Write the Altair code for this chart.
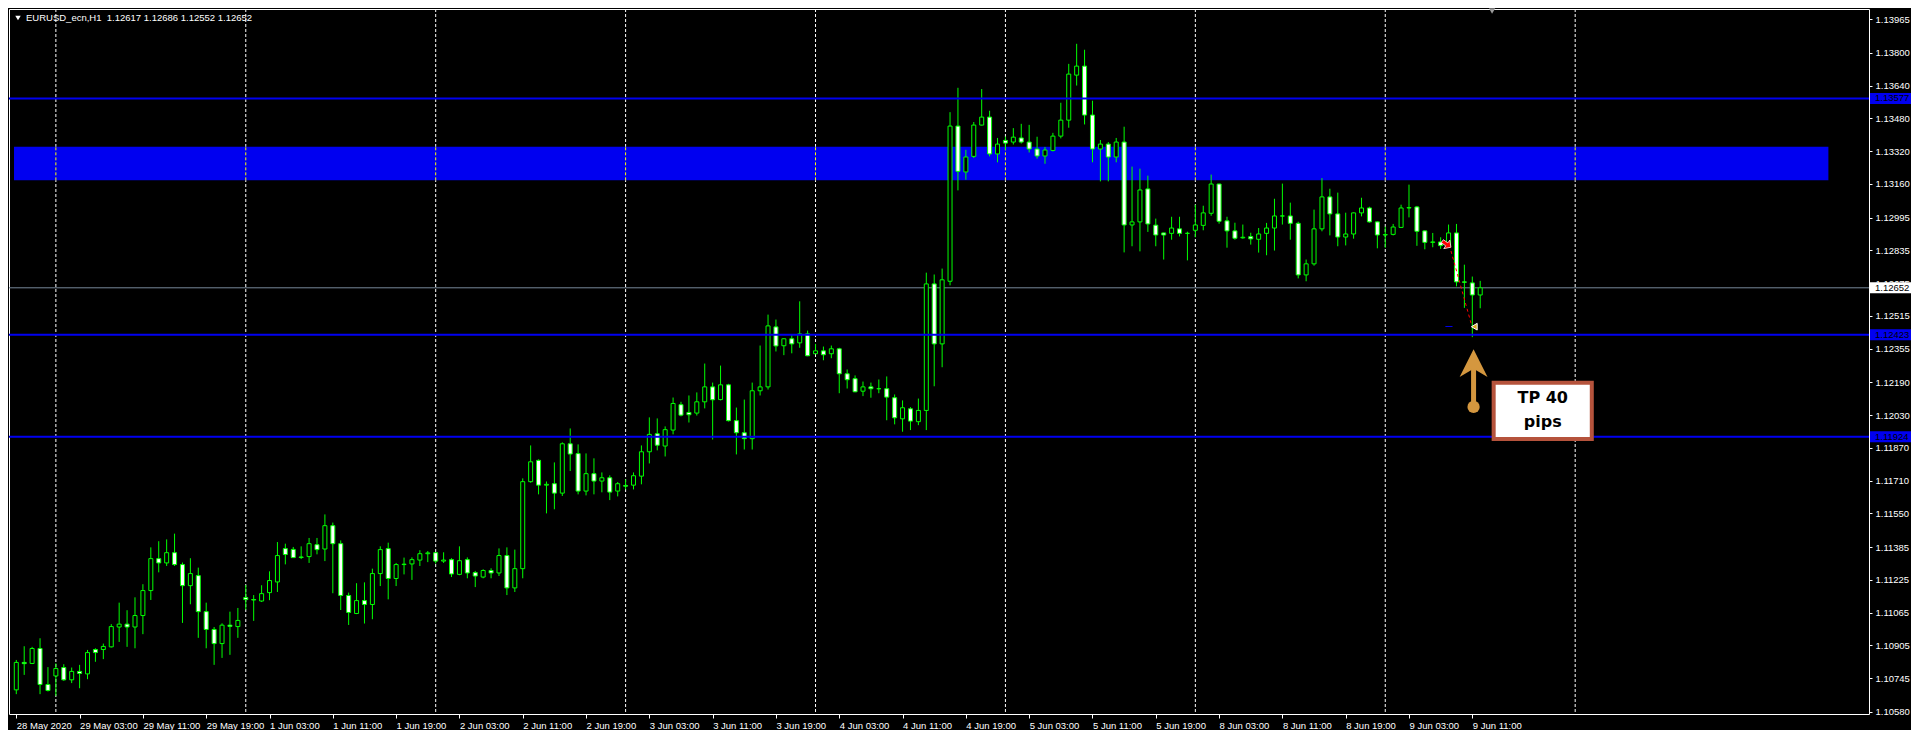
import json
import altair as alt
import pandas as pd

# ---------------- data ----------------
OPEN = [1.10688, 1.10822, 1.10817, 1.10890, 1.10714, 1.10756, 1.10797, 1.10737, 1.10778, 1.10766,
        1.10885, 1.10885, 1.10898, 1.10995, 1.11009, 1.10995, 1.11051, 1.11173, 1.11329, 1.11308,
        1.11358, 1.11300, 1.11197, 1.11246, 1.11070, 1.10983, 1.10914, 1.11004, 1.10997, 1.11139,
        1.11129, 1.11122, 1.11163, 1.11215, 1.11378, 1.11374, 1.11337, 1.11339, 1.11397, 1.11376,
        1.11490, 1.11402, 1.11149, 1.11061, 1.11124, 1.11105, 1.11256, 1.11378, 1.11232, 1.11300,
        1.11303, 1.11322, 1.11353, 1.11358, 1.11317, 1.11324, 1.11252, 1.11324, 1.11261, 1.11239,
        1.11271, 1.11259, 1.11344, 1.11186, 1.11280, 1.11705, 1.11809, 1.11688, 1.11695, 1.11649,
        1.11890, 1.11842, 1.11659, 1.11744, 1.11708, 1.11724, 1.11659, 1.11686, 1.11688, 1.11732,
        1.11851, 1.11939, 1.11879, 1.11957, 1.12081, 1.12043, 1.12040, 1.12095, 1.12168, 1.12106,
        1.12178, 1.12003, 1.11944, 1.11915, 1.12149, 1.12168, 1.12461, 1.12369, 1.12403, 1.12383,
        1.12427, 1.12330, 1.12344, 1.12330, 1.12354, 1.12232, 1.12208, 1.12147, 1.12168, 1.12159,
        1.12159, 1.12115, 1.12012, 1.12061, 1.11998, 1.12053, 1.12671, 1.12378, 1.12684, 1.13442,
        1.13218, 1.13294, 1.13447, 1.13486, 1.13306, 1.13372, 1.13364, 1.13384, 1.13364, 1.13330,
        1.13296, 1.13323, 1.13393, 1.13471, 1.13691, 1.13735, 1.13496, 1.13330, 1.13354, 1.13291,
        1.13364, 1.12959, 1.12974, 1.13135, 1.12958, 1.12920, 1.12918, 1.12940, 1.12918, 1.12933,
        1.12957, 1.13016, 1.13159, 1.12979, 1.12930, 1.12896, 1.12902, 1.12889, 1.12918, 1.12944,
        1.13003, 1.13003, 1.12967, 1.12715, 1.12769, 1.12940, 1.13096, 1.13013, 1.12900, 1.12915,
        1.13018, 1.13042, 1.12974, 1.12910, 1.12913, 1.12947, 1.13042, 1.13047, 1.12930, 1.12874,
        1.12876, 1.12858, 1.12920, 1.12681, 1.12676, 1.12617]
HIGH = [1.10834, 1.10901, 1.10898, 1.10940, 1.10799, 1.10817, 1.10813, 1.10797, 1.10810, 1.10883,
        1.10891, 1.10914, 1.11009, 1.11114, 1.11077, 1.11140, 1.11204, 1.11384, 1.11414, 1.11423,
        1.11451, 1.11310, 1.11331, 1.11285, 1.11114, 1.10995, 1.11013, 1.11070, 1.11088, 1.11200,
        1.11151, 1.11199, 1.11267, 1.11410, 1.11402, 1.11386, 1.11389, 1.11430, 1.11430, 1.11545,
        1.11505, 1.11418, 1.11163, 1.11209, 1.11213, 1.11280, 1.11389, 1.11407, 1.11308, 1.11334,
        1.11335, 1.11370, 1.11366, 1.11360, 1.11360, 1.11331, 1.11389, 1.11335, 1.11269, 1.11277,
        1.11282, 1.11379, 1.11384, 1.11373, 1.11721, 1.11882, 1.11814, 1.11706, 1.11799, 1.11897,
        1.11965, 1.11887, 1.11843, 1.11819, 1.11750, 1.11736, 1.11703, 1.11716, 1.11750, 1.11882,
        1.12019, 1.12014, 1.11975, 1.12116, 1.12095, 1.12126, 1.12141, 1.12282, 1.12189, 1.12272,
        1.12183, 1.12067, 1.12106, 1.12189, 1.12370, 1.12521, 1.12497, 1.12405, 1.12424, 1.12586,
        1.12443, 1.12378, 1.12365, 1.12370, 1.12359, 1.12253, 1.12224, 1.12194, 1.12189, 1.12204,
        1.12219, 1.12131, 1.12102, 1.12069, 1.12111, 1.12726, 1.12717, 1.12746, 1.13510, 1.13629,
        1.13326, 1.13462, 1.13623, 1.13517, 1.13384, 1.13391, 1.13432, 1.13453, 1.13448, 1.13390,
        1.13340, 1.13409, 1.13556, 1.13746, 1.13844, 1.13815, 1.13566, 1.13374, 1.13364, 1.13384,
        1.13439, 1.13244, 1.13234, 1.13200, 1.12990, 1.12921, 1.12999, 1.12999, 1.12926, 1.13058,
        1.13053, 1.13205, 1.13161, 1.12999, 1.12970, 1.12961, 1.12921, 1.12944, 1.12969, 1.13087,
        1.13161, 1.13068, 1.12975, 1.12790, 1.13034, 1.13188, 1.13136, 1.13117, 1.13019, 1.13020,
        1.13092, 1.13048, 1.12976, 1.12951, 1.12964, 1.13058, 1.13156, 1.13052, 1.12932, 1.12920,
        1.12899, 1.12961, 1.12964, 1.12765, 1.12707, 1.12686]
LOW = [1.10667, 1.10761, 1.10814, 1.10667, 1.10680, 1.10659, 1.10732, 1.10721, 1.10696, 1.10740,
       1.10825, 1.10838, 1.10895, 1.10922, 1.10898, 1.10891, 1.10960, 1.11127, 1.11262, 1.11293,
       1.11293, 1.11015, 1.11106, 1.10942, 1.10891, 1.10810, 1.10844, 1.10859, 1.10942, 1.11080,
       1.11025, 1.11117, 1.11126, 1.11166, 1.11301, 1.11334, 1.11327, 1.11308, 1.11350, 1.11317,
       1.11160, 1.11078, 1.11005, 1.11058, 1.11012, 1.11033, 1.11195, 1.11130, 1.11195, 1.11252,
       1.11225, 1.11293, 1.11312, 1.11305, 1.11308, 1.11239, 1.11248, 1.11233, 1.11190, 1.11233,
       1.11233, 1.11244, 1.11151, 1.11166, 1.11233, 1.11700, 1.11643, 1.11550, 1.11570, 1.11635,
       1.11757, 1.11643, 1.11638, 1.11643, 1.11653, 1.11615, 1.11633, 1.11667, 1.11667, 1.11692,
       1.11794, 1.11858, 1.11828, 1.11936, 1.12024, 1.11994, 1.12028, 1.12063, 1.11911, 1.12102,
       1.11999, 1.11838, 1.11862, 1.11862, 1.12126, 1.12155, 1.12341, 1.12323, 1.12332, 1.12359,
       1.12318, 1.12328, 1.12298, 1.12308, 1.12137, 1.12160, 1.12142, 1.12123, 1.12115, 1.12137,
       1.12005, 1.11985, 1.11949, 1.11957, 1.11981, 1.11957, 1.12171, 1.12264, 1.12664, 1.13128,
       1.13180, 1.13286, 1.13445, 1.13294, 1.13265, 1.13326, 1.13352, 1.13357, 1.13313, 1.13283,
       1.13258, 1.13318, 1.13382, 1.13434, 1.13640, 1.13450, 1.13265, 1.13172, 1.13172, 1.13265,
       1.12825, 1.12855, 1.12830, 1.12925, 1.12855, 1.12790, 1.12887, 1.12903, 1.12786, 1.12899,
       1.12933, 1.13004, 1.12965, 1.12848, 1.12887, 1.12892, 1.12863, 1.12824, 1.12811, 1.12834,
       1.12961, 1.12887, 1.12698, 1.12684, 1.12760, 1.12928, 1.12908, 1.12855, 1.12859, 1.12892,
       1.13001, 1.12970, 1.12845, 1.12848, 1.12908, 1.12944, 1.12996, 1.12857, 1.12840, 1.12850,
       1.12842, 1.12850, 1.12659, 1.12554, 1.12411, 1.12552]
CLOSE = [1.10822, 1.10816, 1.10890, 1.10714, 1.10685, 1.10792, 1.10737, 1.10778, 1.10768, 1.10870,
         1.10870, 1.10900, 1.10997, 1.11009, 1.10995, 1.11051, 1.11173, 1.11329, 1.11308, 1.11358,
         1.11300, 1.11197, 1.11256, 1.11070, 1.10983, 1.10914, 1.11004, 1.10998, 1.11027, 1.11129,
         1.11127, 1.11158, 1.11222, 1.11344, 1.11349, 1.11334, 1.11335, 1.11402, 1.11373, 1.11490,
         1.11402, 1.11149, 1.11066, 1.11124, 1.11105, 1.11256, 1.11373, 1.11232, 1.11300, 1.11302,
         1.11324, 1.11353, 1.11357, 1.11317, 1.11322, 1.11254, 1.11319, 1.11259, 1.11244, 1.11271,
         1.11259, 1.11344, 1.11186, 1.11280, 1.11705, 1.11802, 1.11688, 1.11692, 1.11649, 1.11890,
         1.11840, 1.11659, 1.11744, 1.11708, 1.11724, 1.11654, 1.11695, 1.11683, 1.11734, 1.11851,
         1.11936, 1.11883, 1.11959, 1.12087, 1.12030, 1.12032, 1.12095, 1.12168, 1.12105, 1.12178,
         1.12003, 1.11944, 1.11915, 1.12149, 1.12168, 1.12466, 1.12368, 1.12403, 1.12378, 1.12427,
         1.12320, 1.12344, 1.12325, 1.12354, 1.12232, 1.12203, 1.12144, 1.12168, 1.12159, 1.12159,
         1.12118, 1.12017, 1.12066, 1.12001, 1.12053, 1.12671, 1.12378, 1.12691, 1.13442, 1.13221,
         1.13291, 1.13447, 1.13486, 1.13306, 1.13354, 1.13359, 1.13388, 1.13364, 1.13330, 1.13296,
         1.13325, 1.13393, 1.13471, 1.13696, 1.13735, 1.13496, 1.13330, 1.13354, 1.13291, 1.13364,
         1.12959, 1.12974, 1.13130, 1.12964, 1.12910, 1.12910, 1.12944, 1.12918, 1.12918, 1.12959,
         1.13018, 1.13159, 1.12977, 1.12930, 1.12894, 1.12899, 1.12891, 1.12915, 1.12944, 1.13003,
         1.13003, 1.12967, 1.12715, 1.12769, 1.12940, 1.13096, 1.13013, 1.12900, 1.12915, 1.13018,
         1.13042, 1.12974, 1.12910, 1.12912, 1.12949, 1.13042, 1.13044, 1.12928, 1.12874, 1.12876,
         1.12858, 1.12920, 1.12681, 1.12679, 1.12617, 1.12652]

X_LABELS = ["28 May 2020", "29 May 03:00", "29 May 11:00", "29 May 19:00", "1 Jun 03:00",
            "1 Jun 11:00", "1 Jun 19:00", "2 Jun 03:00", "2 Jun 11:00", "2 Jun 19:00",
            "3 Jun 03:00", "3 Jun 11:00", "3 Jun 19:00", "4 Jun 03:00", "4 Jun 11:00",
            "4 Jun 19:00", "5 Jun 03:00", "5 Jun 11:00", "5 Jun 19:00", "8 Jun 03:00",
            "8 Jun 11:00", "8 Jun 19:00", "9 Jun 03:00", "9 Jun 11:00"]
X_LABEL_BARS = list(range(0, 185, 8))
Y_TICKS = [1.13965, 1.13800, 1.13640, 1.13480, 1.13320, 1.13160, 1.12995, 1.12835, 1.12675,
           1.12515, 1.12355, 1.12190, 1.12030, 1.11870, 1.11710, 1.11550, 1.11385, 1.11225,
           1.11065, 1.10905, 1.10745, 1.10580]
DAY_BARS = [5, 29, 53, 77, 101, 125, 149, 173, 197]
LEVELS = [1.13577, 1.12423, 1.11924]
ZONE_LO, ZONE_HI, ZONE_END = 1.13177, 1.13341, 229
BID = 1.12652
SYMBOL = "EURUSD_ecn,H1"

# trade annotation
ENTRY_BAR, ENTRY_PRICE = 180.75, 1.12865
LINE_START, LINE_END = 181.1, 183.96
EXIT_BAR, EXIT_PRICE = 184.25, 1.12462
TP_PRICE, TP_X0, TP_X1 = 1.12463, 180.6, 181.5
ARROW_BAR, ARROW_HEAD, ARROW_TOP, ARROW_BASE = 184.16, 1.12284, 1.12264, 1.12070
BOX_X0, BOX_X1, BOX_LO, BOX_HI = 186.7, 199.1, 1.11913, 1.12188
NOTE_BAR, NOTE_LINES, NOTE_PRICES = 192.9, ["TP 40", "pips"], [1.12112, 1.11997]
SHIFT_BAR = 186.5

# ---------------- layout / style ----------------
W, H = 1860, 705
LIME = "#00FF00"
BLUE = "#0000F0"
FONT = "Liberation Sans"
FS = 9.5

XS = alt.Scale(domain=[-0.29, 233.5], nice=False, zero=False)
YS = alt.Scale(domain=[1.10570, 1.14014], nice=False, zero=False)

lab_expr = f"{json.dumps(X_LABELS)}[indexof({json.dumps(X_LABEL_BARS)}, datum.value)]"
XAX = alt.Axis(values=X_LABEL_BARS, labelExpr=lab_expr, title=None, grid=False, domain=False,
               tickSize=4, tickColor="white", labelColor="white", labelAlign="left",
               labelPadding=2, labelFont=FONT, labelFontSize=FS, labelOverlap=False,
               labelFlush=False, labelBaseline="top")
YAX = alt.Axis(values=Y_TICKS, format=".5f", orient="right", title=None, grid=False,
               domain=False, tickSize=3, tickColor="white", labelColor="white",
               labelAlign="left", labelBaseline="middle", labelPadding=3, labelFont=FONT,
               labelFontSize=FS, labelOverlap=False, labelFlush=False)


def X(f):
    return alt.X(f, type="quantitative", scale=XS, axis=XAX)


def Y(f):
    return alt.Y(f, type="quantitative", scale=YS, axis=YAX)


n = len(OPEN)
candles = pd.DataFrame({"idx": list(range(n)), "o": OPEN, "h": HIGH, "l": LOW, "c": CLOSE})
candles["top"] = candles[["o", "c"]].max(axis=1)
candles["bot"] = candles[["o", "c"]].min(axis=1)
candles["body"] = ["#FFFFFF" if c < o else "#000000" for o, c in zip(OPEN, CLOSE)]

days = pd.DataFrame({"b": DAY_BARS, "lo": ZONE_LO, "hi": ZONE_HI})

grid = alt.Chart(days).mark_rule(color="white", strokeDash=[3, 2], strokeWidth=1).encode(x=X("b"))
zone = alt.Chart(pd.DataFrame({"x0": [XS.domain[0]], "x1": [ZONE_END], "lo": [ZONE_LO], "hi": [ZONE_HI]})
                 ).mark_rect(color=BLUE).encode(x=X("x0"), x2="x1", y=Y("lo"), y2="hi")
zone_grid = alt.Chart(days).mark_rule(color="#FFFF00", strokeDash=[3, 2], strokeWidth=1).encode(
    x=X("b"), y=Y("lo"), y2="hi")
bid_line = alt.Chart(pd.DataFrame({"p": [BID]})).mark_rule(color="#778899", strokeWidth=1).encode(y=Y("p"))

wicks = alt.Chart(candles).mark_rule(color=LIME, strokeWidth=1).encode(x=X("idx"), y=Y("l"), y2="h")
bodies = alt.Chart(candles).mark_bar(size=4, stroke=LIME, strokeWidth=1, filled=True).encode(
    x=X("idx"), y=Y("bot"), y2="top", color=alt.Color("body:N", scale=None))

levels = alt.Chart(pd.DataFrame({"p": LEVELS})).mark_rule(color=BLUE, strokeWidth=2).encode(y=Y("p"))

trade = alt.Chart(pd.DataFrame({"b": [LINE_START, LINE_END], "p": [ENTRY_PRICE - 0.00005, TP_PRICE]})
                  ).mark_line(color="#FF0000", strokeDash=[3, 3], strokeWidth=1).encode(x=X("b"), y=Y("p"))
tp_dash = alt.Chart(pd.DataFrame({"x0": [TP_X0], "x1": [TP_X1], "p": [TP_PRICE]})
                    ).mark_rule(color=BLUE, strokeWidth=1).encode(x=X("x0"), x2="x1", y=Y("p"))
ARROW_RIGHT = "M-1,-0.35L0.05,-0.35L0.05,-1L1,0L0.05,1L0.05,0.35L-1,0.35Z"
entry = alt.Chart(pd.DataFrame({"b": [ENTRY_BAR], "p": [ENTRY_PRICE]})).mark_point(
    shape=ARROW_RIGHT, angle=35, filled=True, fill="#FF0000", stroke="white", strokeWidth=0.7,
    size=110, opacity=1).encode(x=X("b"), y=Y("p"))
exit_m = alt.Chart(pd.DataFrame({"b": [EXIT_BAR], "p": [EXIT_PRICE]})).mark_point(
    shape="triangle-left", filled=True, fill="#DAA520", stroke="white", strokeWidth=1,
    size=45, opacity=1).encode(x=X("b"), y=Y("p"))

ORANGE = "#D4973F"
shaft = alt.Chart(pd.DataFrame({"b": [ARROW_BAR], "y0": [ARROW_BASE], "y1": [ARROW_TOP]})
                  ).mark_rule(color=ORANGE, strokeWidth=5).encode(x=X("b"), y=Y("y0"), y2="y1")
head = alt.Chart(pd.DataFrame({"b": [ARROW_BAR], "p": [ARROW_HEAD]})).mark_point(
    shape="M0,-1L1,1L0,0.4L-1,1Z", filled=True, fill=ORANGE, strokeWidth=0, size=780,
    opacity=1).encode(x=X("b"), y=Y("p"))
knob = alt.Chart(pd.DataFrame({"b": [ARROW_BAR], "p": [ARROW_BASE]})).mark_point(
    shape="circle", filled=True, fill=ORANGE, strokeWidth=0, size=150, opacity=1).encode(
    x=X("b"), y=Y("p"))
box = alt.Chart(pd.DataFrame({"x0": [BOX_X0], "x1": [BOX_X1], "lo": [BOX_LO], "hi": [BOX_HI]})
                ).mark_rect(fill="white", stroke="#B5533C", strokeWidth=4).encode(
    x=X("x0"), x2="x1", y=Y("lo"), y2="hi")
note = alt.Chart(pd.DataFrame({"b": [NOTE_BAR] * 2, "p": NOTE_PRICES, "t": NOTE_LINES})).mark_text(
    font="DejaVu Sans", fontWeight="bold", fontSize=16, color="black", align="center",
    baseline="middle").encode(x=X("b"), y=Y("p"), text="t:N")

# price tags on the right axis
tags = pd.DataFrame({"p": LEVELS + [BID],
                     "bg": [BLUE] * len(LEVELS) + ["#FFFFFF"],
                     "t": [f"{v:.5f}" for v in LEVELS + [BID]]})
tag_box = alt.Chart(tags).mark_tick(orient="horizontal", size=41, thickness=11, opacity=1).encode(
    x=alt.value(W + 21.5), y=Y("p"), color=alt.Color("bg:N", scale=None))
tag_txt = alt.Chart(tags).mark_text(align="left", baseline="middle", font=FONT, fontSize=FS,
                                    color="black").encode(x=alt.value(W + 6), y=Y("p"), text="t:N")

# header text
o, h, l, c = OPEN[-1], HIGH[-1], LOW[-1], CLOSE[-1]
header = f"{SYMBOL}\u00a0\u00a0{o:.5f} {h:.5f} {l:.5f} {c:.5f}"
title_txt = alt.Chart(pd.DataFrame({"t": [header]})).mark_text(
    align="left", baseline="middle", font=FONT, fontSize=FS, color="white").encode(
    x=alt.value(17), y=alt.value(9), text="t:N")
title_tri = alt.Chart(pd.DataFrame({"t": [0]})).mark_point(
    shape="triangle-down", filled=True, fill="white", strokeWidth=0, size=30, opacity=1).encode(
    x=alt.value(9), y=alt.value(9))
shift = alt.Chart(pd.DataFrame({"b": [SHIFT_BAR]})).mark_point(
    shape="triangle-down", filled=True, fill="#9A9A9A", strokeWidth=0, size=40, opacity=1).encode(
    x=X("b"), y=alt.value(2))

chart = alt.layer(
    grid, zone, zone_grid, bid_line, wicks, bodies, levels,
    trade, tp_dash, entry, exit_m, shaft, head, knob, box, note,
    tag_box, tag_txt, title_txt, title_tri, shift,
).properties(width=W, height=H, padding=0).configure(background="black").configure_view(
    fill="black", stroke="white", strokeWidth=1)

chart.save("out.html", embed_options={"renderer": "svg", "actions": False})
